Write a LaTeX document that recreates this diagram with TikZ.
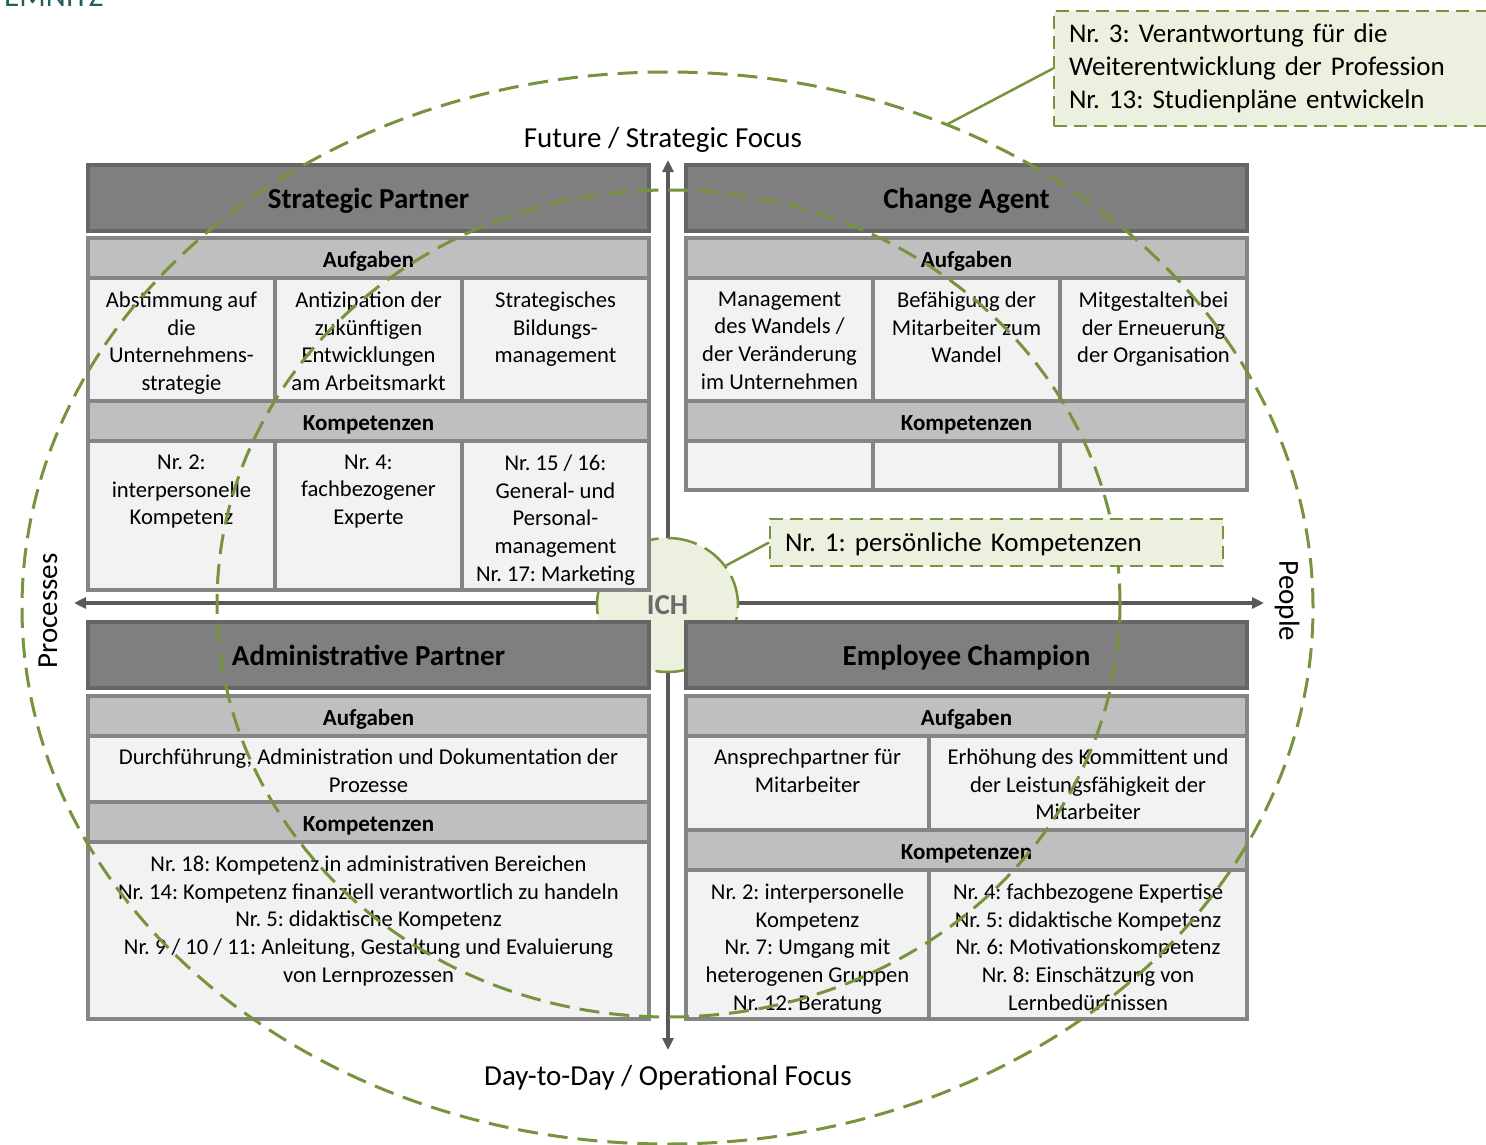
\documentclass[tikz,border=0pt]{standalone}
\usepackage{fontspec}
\setmainfont{Carlito}
\usetikzlibrary{positioning,shapes.geometric,arrows.meta}
\frenchspacing

\definecolor{hdfill}{HTML}{7F7F7F}
\definecolor{hdline}{HTML}{666666}
\definecolor{ichgray}{HTML}{6B6B6B}
\definecolor{bandfill}{HTML}{BFBFBF}
\definecolor{boxline}{HTML}{858585}
\definecolor{cellfill}{HTML}{F2F2F2}
\definecolor{olive}{HTML}{77933C}
\definecolor{olivefill}{HTML}{EBF1DE}
\definecolor{axisgray}{HTML}{595959}
\definecolor{logoteal}{HTML}{1F5F5C}

\newcommand\rolefont{\bfseries\fontsize{29}{35}\selectfont}
\newcommand\bandfont{\bfseries\fontsize{23}{28}\selectfont}
\newcommand\cellfont{\fontsize{22.6}{27.7}\selectfont}
\newcommand\axisfont{\fontsize{29}{35}\selectfont}
\newcommand\notefont{\fontsize{27}{33}\selectfont}

\tikzset{
  role/.style={draw=hdline, fill=hdfill, line width=3.5pt, anchor=north west,
    inner sep=0pt, outer sep=0pt, minimum width=561pt, minimum height=66pt,
    text height=20pt, text depth=0pt, font=\rolefont},
  band/.style={draw=boxline, fill=bandfill, line width=3.5pt, inner sep=0pt,
    outer sep=0pt, minimum width=561pt, minimum height=40pt,
    text height=18.6pt, text depth=0pt, font=\bandfont},
  cell/.style={draw=boxline, fill=cellfill, line width=3.5pt, inner sep=0pt, outer sep=0pt},
  celltext/.style={align=center, inner sep=0pt, font=\cellfont},
  ring/.style={ellipse, draw=olive, line width=3pt, dash pattern=on 20pt off 10pt,
    inner sep=0pt, outer sep=0pt},
  note/.style={draw=olive, fill=olivefill, line width=2pt, dash pattern=on 13pt off 7pt,
    anchor=north west, inner xsep=15pt, inner ysep=0pt, align=left, font=\notefont},
  lead/.style={draw=olive, line width=2.5pt},
  axis/.style={draw=axisgray, line width=3.5pt,
    {Triangle[length=12pt,width=11pt]}-{Triangle[length=12pt,width=11pt]}},
  axlabel/.style={inner sep=0pt, font=\axisfont}
}

\begin{document}
\begin{tikzpicture}[x=1pt, y=-1pt]
  \useasboundingbox[fill=white] (0,0) rectangle (1486,1145);

  % logo, cut by the page edge
  \node[anchor=base west, inner sep=0pt, text=logoteal, font=\fontsize{31}{31}\selectfont] (logo) at (4,7) {EMNITZ};

  % axes
  \coordinate (ax-n) at (668,160);
  \coordinate (ax-s) at (668,1050);
  \coordinate (ax-w) at (74,603);
  \coordinate (ax-e) at (1264,603);
  \draw[axis] (ax-s) -- (ax-n);
  \draw[axis] (ax-w) -- (ax-e);

  \node[axlabel] (future) at (663,140) {Future / Strategic Focus};
  \node[axlabel] (daytoday) at (668,1078) {Day-to-Day / Operational Focus};
  \node[axlabel, rotate=90] (processes) at (48,611) {Processes};
  \node[axlabel, rotate=-90] (people) at (1287,601) {People};

  % ICH
  \node[ellipse, fill=olivefill, draw=olive, line width=2.5pt, dash pattern=on 30pt off 9pt,
    minimum width=141pt, minimum height=134pt, inner sep=0pt, text=ichgray, font=\rolefont] (ich) at (667.5,605) {ICH};

  % Strategic Partner
  \node[role] (sp) at (88,165) {Strategic Partner};
  \node[band, below right=7pt and 0pt of sp.south west] (sp-auf) {Aufgaben};
  \node[cell, minimum width=187pt, minimum height=123pt, below right=0pt and 0pt of sp-auf.south west] (sp-a1) {};
  \node[cell, minimum width=187pt, minimum height=123pt, right=0pt of sp-a1] (sp-a2) {};
  \node[cell, minimum width=187pt, minimum height=123pt, right=0pt of sp-a2] (sp-a3) {};
  \node[band, below right=0pt and 0pt of sp-a1.south west] (sp-komp) {Kompetenzen};
  \node[cell, minimum width=187pt, minimum height=149pt, below right=0pt and 0pt of sp-komp.south west] (sp-k1) {};
  \node[cell, minimum width=187pt, minimum height=149pt, right=0pt of sp-k1] (sp-k2) {};
  \node[cell, minimum width=187pt, minimum height=149pt, right=0pt of sp-k2] (sp-k3) {};
  \node[celltext, below=13.5pt of sp-a1.north] (sp-a1-t) {Abstimmung auf\\die\\Unternehmens-\\strategie};
  \node[celltext, below=13.5pt of sp-a2.north] (sp-a2-t) {Antizipation der\\zukünftigen\\Entwicklungen\\am Arbeitsmarkt};
  \node[celltext, below=13.5pt of sp-a3.north] (sp-a3-t) {Strategisches\\Bildungs-\\management};
  \node[celltext, below=13.5pt of sp-k1.north] (sp-k1-t) {Nr. 2:\\interpersonelle\\Kompetenz};
  \node[celltext, below=13.5pt of sp-k2.north] (sp-k2-t) {Nr. 4:\\fachbezogener\\Experte};
  \node[celltext, below=13.5pt of sp-k3.north] (sp-k3-t) {Nr. 15 / 16:\\General- und\\Personal-\\management\\Nr. 17: Marketing};

  % Change Agent
  \node[role] (ca) at (686,165) {Change Agent};
  \node[band, below right=7pt and 0pt of ca.south west] (ca-auf) {Aufgaben};
  \node[cell, minimum width=187pt, minimum height=123pt, below right=0pt and 0pt of ca-auf.south west] (ca-a1) {};
  \node[cell, minimum width=187pt, minimum height=123pt, right=0pt of ca-a1] (ca-a2) {};
  \node[cell, minimum width=187pt, minimum height=123pt, right=0pt of ca-a2] (ca-a3) {};
  \node[band, below right=0pt and 0pt of ca-a1.south west] (ca-komp) {Kompetenzen};
  \node[cell, minimum width=187pt, minimum height=49pt, below right=0pt and 0pt of ca-komp.south west] (ca-k1) {};
  \node[cell, minimum width=187pt, minimum height=49pt, right=0pt of ca-k1] (ca-k2) {};
  \node[cell, minimum width=187pt, minimum height=49pt, right=0pt of ca-k2] (ca-k3) {};
  \node[celltext, below=13.5pt of ca-a1.north] (ca-a1-t) {Management\\des Wandels /\\der Veränderung\\im Unternehmen};
  \node[celltext, below=13.5pt of ca-a2.north] (ca-a2-t) {Befähigung der\\Mitarbeiter zum\\Wandel};
  \node[celltext, below=13.5pt of ca-a3.north] (ca-a3-t) {Mitgestalten bei\\der Erneuerung\\der Organisation};

  % Administrative Partner
  \node[role] (ap) at (88,622) {Administrative Partner};
  \node[band, below right=8pt and 0pt of ap.south west] (ap-auf) {Aufgaben};
  \node[cell, minimum width=561pt, minimum height=66pt, below right=0pt and 0pt of ap-auf.south west] (ap-a1) {};
  \node[band, below right=0pt and 0pt of ap-a1.south west] (ap-komp) {Kompetenzen};
  \node[cell, minimum width=561pt, minimum height=177pt, below right=0pt and 0pt of ap-komp.south west] (ap-k1) {};
  \node[celltext, below=12.5pt of ap-a1.north] (ap-a1-t) {Durchführung, Administration und Dokumentation der\\Prozesse};
  \node[celltext, below=13.5pt of ap-k1.north] (ap-k1-t) {Nr. 18: Kompetenz in administrativen Bereichen\\Nr. 14: Kompetenz finanziell verantwortlich zu handeln\\Nr. 5: didaktische Kompetenz\\Nr. 9 / 10 / 11: Anleitung, Gestaltung und Evaluierung\\von Lernprozessen};

  % Employee Champion
  \node[role] (ec) at (686,622) {Employee Champion};
  \node[band, below right=8pt and 0pt of ec.south west] (ec-auf) {Aufgaben};
  \node[cell, minimum width=243pt, minimum height=94pt, below right=0pt and 0pt of ec-auf.south west] (ec-a1) {};
  \node[cell, minimum width=318pt, minimum height=94pt, right=0pt of ec-a1] (ec-a2) {};
  \node[band, below right=0pt and 0pt of ec-a1.south west] (ec-komp) {Kompetenzen};
  \node[cell, minimum width=243pt, minimum height=149pt, below right=0pt and 0pt of ec-komp.south west] (ec-k1) {};
  \node[cell, minimum width=318pt, minimum height=149pt, right=0pt of ec-k1] (ec-k2) {};
  \node[celltext, below=12.5pt of ec-a1.north] (ec-a1-t) {Ansprechpartner für\\Mitarbeiter};
  \node[celltext, below=12.5pt of ec-a2.north] (ec-a2-t) {Erhöhung des Kommittent und\\der Leistungsfähigkeit der\\Mitarbeiter};
  \node[celltext, below=13.5pt of ec-k1.north] (ec-k1-t) {Nr. 2: interpersonelle\\Kompetenz\\Nr. 7: Umgang mit\\heterogenen Gruppen\\Nr. 12: Beratung};
  \node[celltext, below=13.5pt of ec-k2.north] (ec-k2-t) {Nr. 4: fachbezogene Expertise\\Nr. 5: didaktische Kompetenz\\Nr. 6: Motivationskompetenz\\Nr. 8: Einschätzung von\\Lernbedürfnissen};

  % rings
  \node[ring, minimum width=1291pt, minimum height=1072pt] (outer) at (667.5,608) {};
  \node[ring, minimum width=903pt, minimum height=827pt] (inner) at (668.5,603.5) {};

  % notes
  \node[note, minimum width=453pt, minimum height=47pt, text width=423pt, text depth=0pt] (note1) at (769,518) {Nr. 1: persönliche Kompetenzen};
  \node[note, minimum width=440pt, minimum height=115pt, text width=410pt] (note3) at (1053,10) {Nr. 3: Verantwortung für die\\Weiterentwicklung der Profession\\Nr. 13: Studienpläne entwickeln};
  \draw[lead] (ich.34) -- (note1.west);
  \draw[lead] (outer.60) -- (note3.west);
\end{tikzpicture}
\end{document}
